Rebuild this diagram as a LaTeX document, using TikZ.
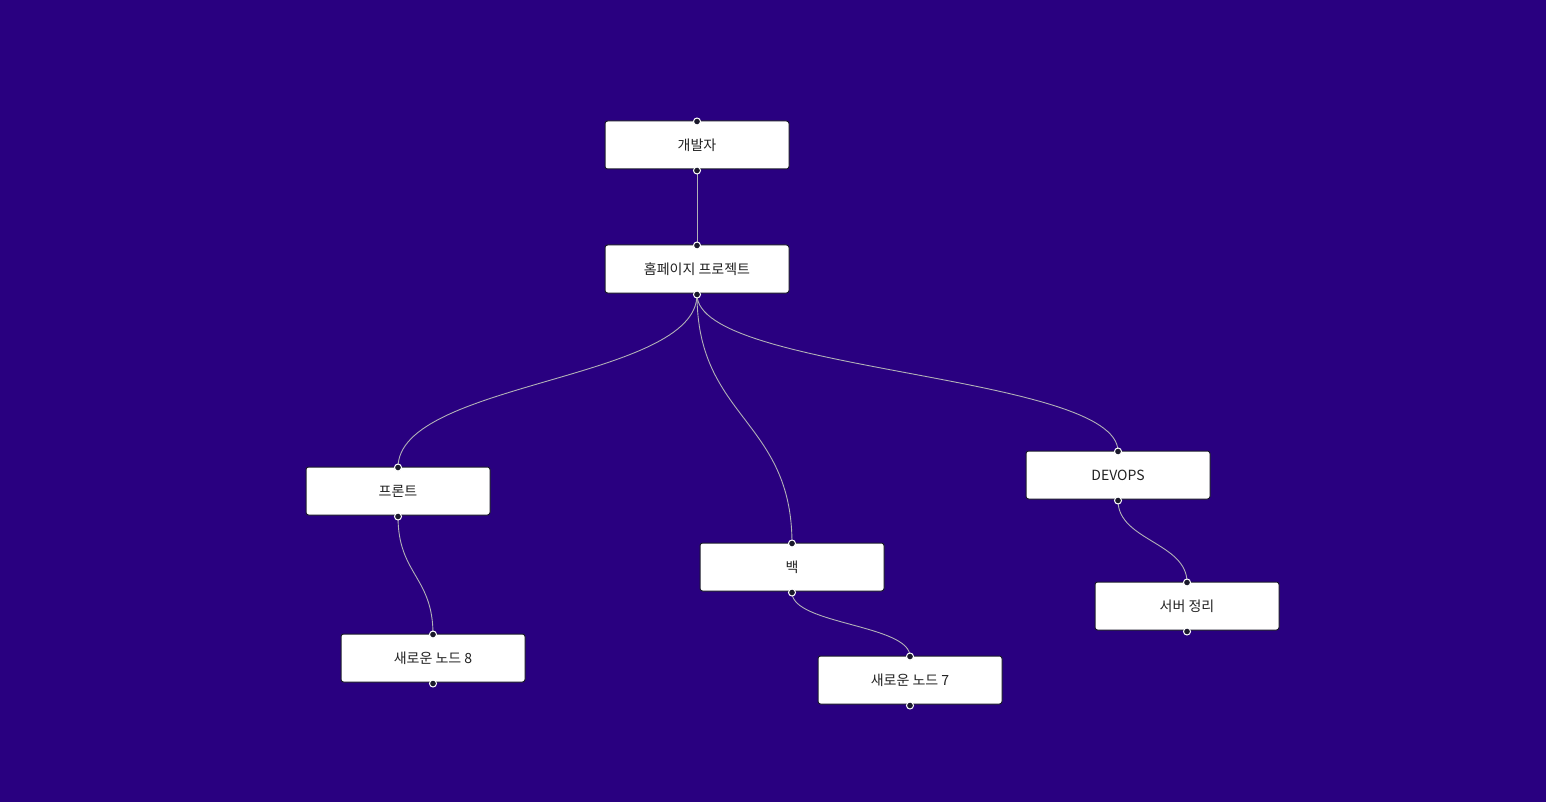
\documentclass[tikz,border=0pt]{standalone}
\usepackage{fontspec}
\setmainfont{Noto Sans CJK KR}
\definecolor{bg}{RGB}{41,0,128}
\definecolor{edgec}{RGB}{177,177,183}
\definecolor{handlec}{RGB}{26,25,43}
\definecolor{txt}{RGB}{34,34,34}
\tikzset{
  flownode/.style={draw=handlec, line width=1pt, fill=white, rounded corners=2.5pt,
    minimum width=184pt, minimum height=48pt, inner sep=0pt, font=\fontsize{14}{16}\selectfont, text=txt},
  hdl/.style={circle, fill=handlec, draw=white, line width=1pt, minimum size=7pt, inner sep=0pt},
  flowedge/.style={draw=edgec, line width=0.9pt}
}
\begin{document}
\begin{tikzpicture}[x=1pt,y=-1pt]
\fill[bg] (0,0) rectangle (1546,802);
\useasboundingbox (0,0) rectangle (1546,802);
\node[flownode] (dev) at (697,145) {개발자};
\node[flownode] (home) at (697,269) {홈페이지 프로젝트};
\node[flownode] (front) at (398,491) {프론트};
\node[flownode] (back) at (792,567) {백};
\node[flownode] (devops) at (1118,475) {DEVOPS};
\node[flownode] (server) at (1187,606) {서버 정리};
\node[flownode] (n8) at (433,658) {새로운 노드 8};
\node[flownode] (n7) at (910,680) {새로운 노드 7};
\foreach \n in {dev,home,front,back,devops,server,n8,n7}{
  \coordinate (\n-t) at ([yshift=-1pt]\n.north);
  \coordinate (\n-b) at ([yshift=-1pt]\n.south);
}
% edges
\draw[flowedge] (dev-b) .. controls ([yshift=-37pt]dev-b) and ([yshift=37pt]home-t) .. (home-t);
\draw[flowedge] (home-b) .. controls ([yshift=-86pt]home-b) and ([yshift=86pt]front-t) .. (front-t);
\draw[flowedge] (home-b) .. controls ([yshift=-124pt]home-b) and ([yshift=124pt]back-t) .. (back-t);
\draw[flowedge] (home-b) .. controls ([yshift=-78pt]home-b) and ([yshift=78pt]devops-t) .. (devops-t);
\draw[flowedge] (front-b) .. controls ([yshift=-58pt]front-b) and ([yshift=58pt]n8-t) .. (n8-t);
\draw[flowedge] (back-b) .. controls ([yshift=-32pt]back-b) and ([yshift=32pt]n7-t) .. (n7-t);
\draw[flowedge] (devops-b) .. controls ([yshift=-40pt]devops-b) and ([yshift=40pt]server-t) .. (server-t);
% handles
\foreach \n in {dev,home,front,back,devops,server,n8,n7}{
  \node[hdl] at (\n-t) {};
  \node[hdl] at (\n-b) {};
}
\end{tikzpicture}
\end{document}
